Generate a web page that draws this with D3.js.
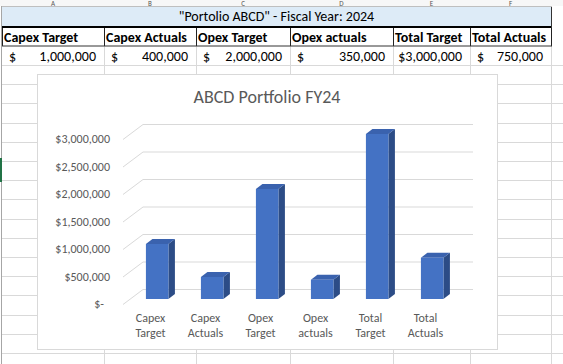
<!DOCTYPE html>
<html><head><meta charset="utf-8">
<script src="https://cdn.jsdelivr.net/npm/d3@7"></script>
<style>html,body{margin:0;padding:0;background:#fff;overflow:hidden}</style>
</head><body>
<svg id="c" width="563" height="364"></svg>
<script>
// ---- data ----
const tableTitle = '"Portolio ABCD" - Fiscal Year: 2024';
const chartTitle = "ABCD Portfolio FY24";
const columnLetters = ["A", "B", "C", "D", "E", "F"];
const categories = ["Capex Target", "Capex Actuals", "Opex Target", "Opex actuals", "Total Target", "Total Actuals"];
const values = [1000000, 400000, 2000000, 350000, 3000000, 750000];
const yTicks = [0, 500000, 1000000, 1500000, 2000000, 2500000, 3000000];

// ---- layout ----
const W = 563, H = 364;
const colEdges = [2, 104, 196, 290, 393, 470, 551];
const sheetFont = "Carlito, Calibri, 'Liberation Sans', Arial, sans-serif";
const chartFont = "Carlito, Calibri, 'Liberation Sans', Arial, sans-serif";
const gridC = "#D9D9D9";
const svg = d3.select("#c");

svg.append("rect").attr("width", W).attr("height", H).attr("fill", "#fff");

// sheet gridlines
const rowLines = d3.range(65, H + 1, 19.2);
svg.append("g").selectAll("line").data(rowLines).join("line")
  .attr("x1", 2).attr("x2", W).attr("y1", d => Math.round(d) + 0.5).attr("y2", d => Math.round(d) + 0.5)
  .attr("stroke", gridC);
svg.append("g").selectAll("line").data(colEdges.slice(1)).join("line")
  .attr("x1", d => d + 0.5).attr("x2", d => d + 0.5).attr("y1", 0).attr("y2", H)
  .attr("stroke", gridC);
svg.append("line").attr("x1", 1.5).attr("x2", 1.5).attr("y1", 0).attr("y2", H).attr("stroke", "#A6A6A6");
// selection marker
svg.append("rect").attr("x", 0).attr("y", 158).attr("width", 2).attr("height", 24).attr("fill", "#217346");

// column header strip (mostly scrolled out of view)
svg.append("rect").attr("x", 0).attr("y", 0).attr("width", W).attr("height", 6).attr("fill", "#F7F7F7");
svg.append("g").selectAll("text").data(columnLetters).join("text")
  .attr("x", (d, i) => (colEdges[i] + colEdges[i + 1]) / 2).attr("y", 5.5)
  .attr("text-anchor", "middle").attr("font-family", sheetFont).attr("font-size", 7)
  .attr("fill", "#555").text(d => d);

// title row
svg.append("rect").attr("x", 2).attr("y", 6).attr("width", 549).attr("height", 20).attr("fill", "#DDEBF7");
svg.append("text").attr("x", 276.5).attr("y", 21).attr("text-anchor", "middle")
  .attr("font-family", sheetFont).attr("font-size", 14).attr("fill", "#000").text(tableTitle);
svg.append("rect").attr("x", 2).attr("y", 26).attr("width", 550).attr("height", 2).attr("fill", "#000");
svg.append("line").attr("x1", 551.5).attr("x2", 551.5).attr("y1", 6).attr("y2", 46).attr("stroke", "#333");
svg.append("line").attr("x1", 2).attr("x2", 552).attr("y1", 6.5).attr("y2", 6.5).attr("stroke", "#BFBFBF");

// header row
svg.append("g").selectAll("line").data(colEdges).join("line")
  .attr("x1", d => d + 0.5).attr("x2", d => d + 0.5).attr("y1", 28).attr("y2", 46)
  .attr("stroke", "#222");
svg.append("line").attr("x1", 2).attr("x2", 552).attr("y1", 46).attr("y2", 46).attr("stroke", "#333");
svg.append("g").selectAll("text").data(categories).join("text")
  .attr("x", (d, i) => colEdges[i] + 2).attr("y", 42)
  .attr("font-family", sheetFont).attr("font-size", 14).attr("font-weight", "bold")
  .attr("fill", "#000").text(d => d);

// value row (accounting format)
const fmt = d3.format(",");
const vg = svg.append("g").attr("font-family", sheetFont).attr("font-size", 14).attr("fill", "#000");
values.forEach((v, i) => {
  const num = vg.append("text").attr("x", colEdges[i + 1] - 8).attr("y", 61)
    .attr("text-anchor", "end").text(fmt(v));
  const left = colEdges[i + 1] - 8 - num.node().getComputedTextLength();
  const dollar = vg.append("text").attr("y", 61).text("$");
  const dw = dollar.node().getComputedTextLength();
  let dx = colEdges[i] + 7;
  if (dx + dw + 1 > left) dx = left - dw;
  dollar.attr("x", dx);
});

// ---- chart ----
svg.append("rect").attr("x", 37.5).attr("y", 74.5).attr("width", 460).attr("height", 275)
  .attr("fill", "#fff").attr("stroke", "#D9D9D9");

svg.append("text").attr("x", 267).attr("y", 103).attr("text-anchor", "middle")
  .attr("font-family", chartFont).attr("font-size", 18).attr("fill", "#595959").text(chartTitle);

const depthX = 20, depthY = 15;
const x = d3.scaleBand().domain(categories).range([123, 453]);
const y = d3.scaleLinear().domain([0, 3000000]).range([289, 124]);

// gridlines: side wall diagonal + back wall
svg.append("g").selectAll("path").data(yTicks).join("path")
  .attr("d", d => `M123,${y(d) + depthY + 0.5}L${123 + depthX},${y(d) + 0.5}L${453 + depthX},${y(d) + 0.5}`)
  .attr("fill", "none").attr("stroke", "#D9D9D9").attr("stroke-width", 1);

// y labels
svg.append("g").selectAll("text").data(yTicks).join("text")
  .attr("x", d => d === 0 ? 104 : 110).attr("y", d => y(d) + depthY + 4.2)
  .attr("text-anchor", "end").attr("font-family", chartFont).attr("font-size", 12)
  .attr("fill", "#595959").text(d => d === 0 ? "$-" : "$" + fmt(d));

// category labels
const cl = svg.append("g").attr("font-family", chartFont).attr("font-size", 12).attr("fill", "#595959")
  .attr("text-anchor", "middle");
categories.forEach(c => {
  const words = c.split(" ");
  words.forEach((w, j) => {
    cl.append("text").attr("x", x(c) + x.bandwidth() / 2).attr("y", 322 + j * 14.5).text(w);
  });
});

// 3D bars
const bw = 22.5, bdx = 6.5, bdy = 5;
const baseOffX = depthX / 3, baseOffY = depthY * 2 / 3;
const bars = svg.append("g");
categories.forEach((c, i) => {
  const v = values[i];
  const x0 = x(c) + baseOffX + (x.bandwidth() - bw) / 2;
  const yt = y(v) + baseOffY, yb = y(0) + baseOffY;
  bars.append("path")
    .attr("d", `M${x0 + bw},${yt}L${x0 + bw + bdx},${yt - bdy}L${x0 + bw + bdx},${yb - bdy}L${x0 + bw},${yb}Z`)
    .attr("fill", "#2C4C86");
  bars.append("path")
    .attr("d", `M${x0},${yt}L${x0 + bw},${yt}L${x0 + bw + bdx},${yt - bdy}L${x0 + bdx},${yt - bdy}Z`)
    .attr("fill", "#3A62AE");
  bars.append("rect").attr("x", x0).attr("y", yt).attr("width", bw).attr("height", yb - yt)
    .attr("fill", "#4472C4");
});
</script>
</body></html>
